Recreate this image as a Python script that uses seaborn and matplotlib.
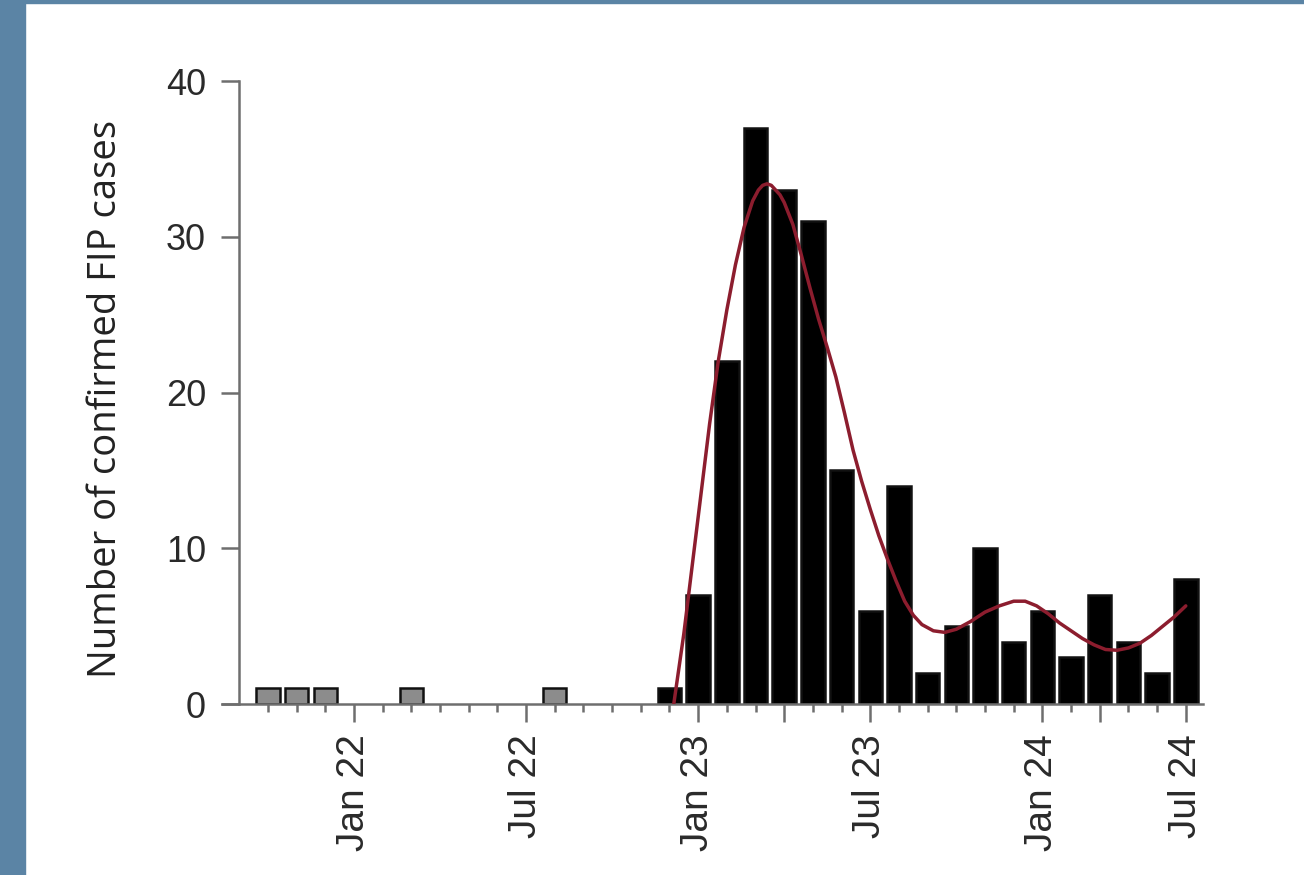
import numpy as np
import pandas as pd
import matplotlib
matplotlib.use('Agg')
import matplotlib.pyplot as plt
from matplotlib.patches import Rectangle
import seaborn as sns

# monthly confirmed FIP cases, Oct 21 .. Jun 24
months = ['Oct 21', 'Nov 21', 'Dec 21', 'Jan 22', 'Feb 22', 'Mar 22', 'Apr 22', 'May 22',
          'Jun 22', 'Jul 22', 'Aug 22', 'Sep 22', 'Oct 22', 'Nov 22', 'Dec 22',
          'Jan 23', 'Feb 23', 'Mar 23', 'Apr 23', 'May 23', 'Jun 23', 'Jul 23', 'Aug 23',
          'Sep 23', 'Oct 23', 'Nov 23', 'Dec 23', 'Jan 24', 'Feb 24', 'Mar 24', 'Apr 24',
          'May 24', 'Jun 24']
counts = [1, 1, 1, 0, 0, 1, 0, 0, 0, 0, 1, 0, 0, 0, 1,
          7, 22, 37, 33, 31, 15, 6, 14, 2, 5, 10, 4, 6, 3, 7, 4, 2, 8]
kind = ['early'] * 14 + ['outbreak'] * 19

# smoothed trend (month index, cases)
curve_x = [14.15, 14.5, 14.8, 15.1, 15.4, 15.7, 16.0, 16.3, 16.6, 16.9, 17.1, 17.25,
           17.4, 17.55, 17.7, 17.85, 18.0, 18.3, 18.6, 18.9, 19.2, 19.5, 19.8, 20.1,
           20.4, 20.7, 21.0, 21.3, 21.6, 21.9, 22.2, 22.5, 22.8, 23.2, 23.6, 24.0,
           24.5, 25.0, 25.5, 26.0, 26.4, 26.8, 27.2, 27.6, 28.0, 28.4, 28.8, 29.2,
           29.6, 30.0, 30.4, 30.8, 31.2, 31.6, 32.0]
curve_y = [0, 4.5, 9, 13.5, 18, 22, 25.3, 28.2, 30.6, 32.3, 33.0, 33.3,
           33.4, 33.3, 33.0, 32.7, 32.2, 30.8, 28.8, 26.7, 24.7, 22.9, 21.0, 18.7,
           16.3, 14.3, 12.5, 10.8, 9.3, 7.9, 6.6, 5.7, 5.1, 4.7, 4.6, 4.8,
           5.3, 5.9, 6.3, 6.6, 6.6, 6.3, 5.8, 5.2, 4.7, 4.2, 3.8, 3.5,
           3.45, 3.6, 3.9, 4.4, 5.0, 5.6, 6.3]

major_idx = [3, 9, 15, 18, 21, 27, 29, 32]
major_lab = ['Jan 22', 'Jul 22', 'Jan 23', '', 'Jul 23', 'Jan 24', '', 'Jul 24']

df = pd.DataFrame({'idx': np.arange(len(months)), 'month': months,
                   'count': counts, 'kind': kind})
df = df[df['count'] > 0]

sns.set_style('ticks')
plt.rcParams['font.family'] = ['Liberation Sans', 'DejaVu Sans']
axcol = '#6e6e6e'

fig = plt.figure(figsize=(13.04, 8.75), dpi=100)
ax = fig.add_axes([222 / 1304, (875 - 704) / 875, 981 / 1304, (704 - 81) / 875])

sns.barplot(data=df, x='idx', y='count', hue='kind',
            palette={'early': '#8c8c8c', 'outbreak': 'black'},
            native_scale=True, dodge=False, width=0.82,
            edgecolor='#111111', linewidth=1.8, legend=False, ax=ax, zorder=2)
sns.lineplot(x=curve_x, y=curve_y, color='#8c1d2e', lw=2.5, sort=False,
             ax=ax, zorder=3)

ax.set_xlim(-1.6, 32.6)
ax.set_ylim(0, 40)

for s in ['top', 'right']:
    ax.spines[s].set_visible(False)
ax.spines['left'].set_position(('data', -1))
ax.spines['left'].set_bounds(0, 40)
for s in ['left', 'bottom']:
    ax.spines[s].set_color(axcol)
    ax.spines[s].set_linewidth(1.8)

ax.set_xticks(major_idx, major_lab)
ax.set_xticks(np.arange(len(months)), minor=True)
ax.tick_params(axis='x', which='major', length=13, width=1.8, color=axcol,
               labelsize=28, pad=9, labelrotation=90, labelcolor='#2a2a2a')
ax.tick_params(axis='x', which='minor', length=6, width=1.8, color=axcol)
ax.set_yticks([0, 10, 20, 30, 40])
ax.tick_params(axis='y', length=13, width=1.8, color=axcol, labelsize=26,
               pad=11, labelcolor='#2a2a2a')

ax.set_xlabel('')
ax.set_ylabel('Number of confirmed FIP cases', fontsize=27.5, color='#222222',
              family=['Open Sans', 'DejaVu Sans'])
ax.yaxis.set_label_coords(-0.099, 0.49)

# page frame strips
fig.patches.append(Rectangle((0, 0), 25 / 1304, 1, transform=fig.transFigure,
                             color='#5b84a5', zorder=0))
fig.patches.append(Rectangle((0, 1 - 3 / 875), 1, 3 / 875, transform=fig.transFigure,
                             color='#5b84a5', zorder=0))

fig.savefig('out.png', dpi=100)
